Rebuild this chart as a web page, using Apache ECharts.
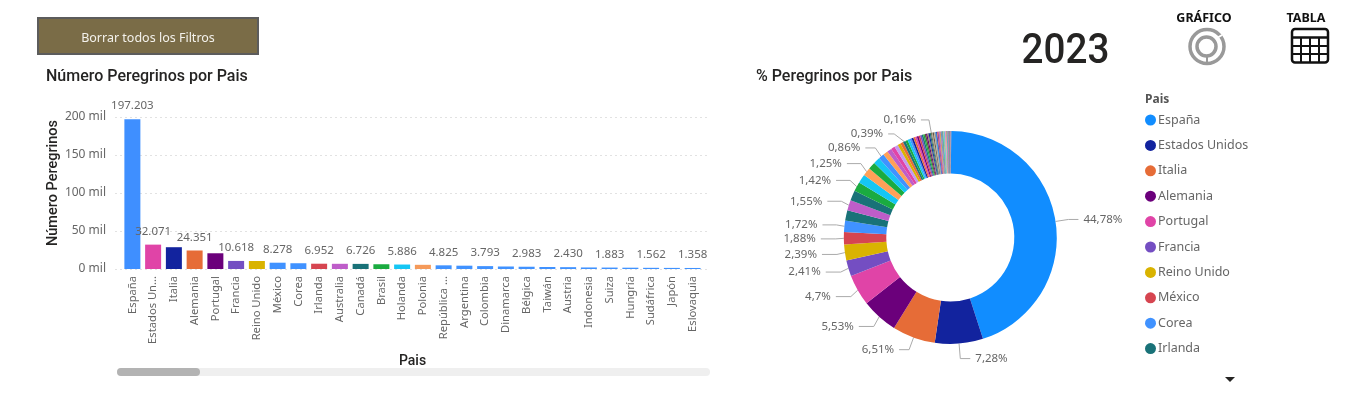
<!DOCTYPE html>
<html><head><meta charset="utf-8">
<style>html,body{margin:0;padding:0;background:#fff}#c{width:1361px;height:396px}</style>
<script src="https://cdn.jsdelivr.net/npm/echarts@6/dist/echarts.min.js"></script>
</head><body><div id="c"></div>
<script>
const barCategories = ['España','Estados Un...','Italia','Alemania','Portugal','Francia','Reino Unido','México','Corea','Irlanda','Australia','Canadá','Brasil','Holanda','Polonia','República ...','Argentina','Colombia','Dinamarca','Bélgica','Taiwán','Austria','Indonesia','Suiza','Hungría','Sudáfrica','Japón','Eslovaquia'];
const barValues = [197203,32071,28670,24351,20700,10618,10525,8278,7575,6952,6830,6726,6250,5886,5505,4825,4360,3793,3300,2983,2640,2430,2030,1883,1720,1562,1450,1358];
const barColors = ['#3f8fff','#e044a7','#12239e','#e66c37','#6b007b','#744ec2','#d9b300','#4092ff','#4092ff','#d64550','#be5dc9','#197278','#1aab40','#15c6f4','#f59a5a','#4092ff','#4092ff','#4092ff','#4092ff','#4092ff','#4092ff','#4092ff','#4092ff','#4092ff','#4092ff','#4092ff','#4092ff','#4092ff'];
const barLabelled = [0,1,3,5,7,9,11,13,15,17,19,21,23,25,27];

const pieNames = ['España','Estados Unidos','Italia','Alemania','Portugal','Francia','Reino Unido','México','Corea','Irlanda','Australia','Canadá','Brasil','Holanda','Polonia','República Checa','Argentina','Colombia','Dinamarca','Bélgica','Taiwán','Austria','Indonesia','Suiza','Hungría','Sudáfrica','Japón','Eslovaquia'];
const pieShares = [44.78,7.28,6.51,5.53,4.7,2.41,2.39,1.88,1.72,1.58,1.55,1.53,1.42,1.34,1.25,1.10,0.99,0.86,0.75,0.68,0.6,0.55,0.46,0.43,0.39,0.355,0.33,0.31];
const otherShares = [0.29,0.28,0.27,0.26,0.25,0.24,0.23,0.22,0.21,0.2,0.19,0.18,0.17,0.16,0.15,0.14,0.13,0.12,0.12,0.11,0.11,0.1,0.1,0.09,0.09,0.08,0.08,0.07,0.07,0.07,0.06,0.06,0.06,0.05,0.05,0.05,0.05,0.05,0.04,0.04,0.04,0.04,0.04,0.04,0.03,0.03,0.03,0.03,0.03,0.03,0.03,0.03,0.03,0.03,0.03,0.02,0.02,0.02,0.02,0.02,0.02,0.02,0.02,0.02,0.02,0.01,0.01,0.01,0.01,0.01,0.01,0.01,0.01];
const pieLabelled = [0,1,2,3,4,5,6,7,8,10,12,14,17,24,41];
const pieColors = ['#118dff','#12239e','#e66c37','#6b007b','#e044a7','#744ec2','#d9b300','#d64550','#4092ff','#197278','#be5dc9','#197278','#1aab40','#15c6f4','#ffa058','#1aab40','#15c6f4','#4092ff','#ffa058','#be5dc9','#e044a7','#c39bf0','#d9b300','#e66c37','#197278','#1aab40','#15c6f4','#4092ff','#12239e','#e66c37','#e044a7','#6b007b','#d64550','#744ec2','#197278','#1aab40','#5a5a30','#6b007b','#8a8a60','#12239e','#197278','#707050','#a8a090','#504030','#b8b098','#808080'];
const legendNames = pieNames.slice(0,10);

const ui = '"Noto Sans","Open Sans",sans-serif';
const din = 'Roboto,"Noto Sans",sans-serif';
const gray = '#666666';
const chart = echarts.init(document.getElementById('c'), null, {renderer:'canvas'});

const allPie = pieShares.concat(otherShares);
const lineTail = {3:15,4:15,5:15,6:15,7:15,8:14,10:14,12:14,14:14,24:6,41:8};
const icon = [
  {type:'rect',shape:{x:38,y:18,width:220,height:36},style:{fill:'#7a6c47',stroke:'#5c5c5c',lineWidth:2}},
  {type:'text',style:{x:148,y:38,text:'Borrar todos los Filtros',fill:'#f4f2ec',font:'12.5px '+ui,align:'center',verticalAlign:'middle'}},
  {type:'text',style:{x:46,y:76.5,text:'Número Peregrinos por Pais',fill:'#252423',font:'500 16px '+din,align:'left',verticalAlign:'middle',letterSpacing:0.7}},
  {type:'text',style:{x:756,y:76.5,text:'% Peregrinos por Pais',fill:'#252423',font:'500 16px '+din,align:'left',verticalAlign:'middle',letterSpacing:0.7}},
  {type:'text',originX:1065.5,originY:48,scaleX:0.92,style:{x:1065.5,y:52,text:'2023',fill:'#252423',font:'500 42px '+din,align:'center',verticalAlign:'middle',letterSpacing:2}},
  {type:'text',style:{x:1204,y:18,text:'GRÁFICO',fill:'#111',font:'bold 12.5px '+ui,align:'center',verticalAlign:'middle'}},
  {type:'text',style:{x:1306,y:18,text:'TABLA',fill:'#111',font:'bold 12.5px '+ui,align:'center',verticalAlign:'middle'}},
  {type:'circle',shape:{cx:1207,cy:46.5,r:17},style:{fill:'none',stroke:'#999',lineWidth:3.5}},
  {type:'circle',shape:{cx:1206.5,cy:46.5,r:9.5},style:{fill:'none',stroke:'#999',lineWidth:3.5}},
  {type:'line',shape:{x1:1217,y1:38,x2:1222,y2:35},style:{stroke:'#fff',lineWidth:2}},
  {type:'line',shape:{x1:1207,y1:57,x2:1207,y2:62},style:{stroke:'#999',lineWidth:2}},
  {type:'rect',shape:{x:1292,y:29,width:36,height:33.5,r:3},style:{fill:'#fff',stroke:'#111',lineWidth:2.5}},
  {type:'line',shape:{x1:1292,y1:37.5,x2:1328,y2:37.5},style:{stroke:'#111',lineWidth:2.5}},
  {type:'line',shape:{x1:1292,y1:46,x2:1328,y2:46},style:{stroke:'#111',lineWidth:2}},
  {type:'line',shape:{x1:1292,y1:54,x2:1328,y2:54},style:{stroke:'#111',lineWidth:2}},
  {type:'line',shape:{x1:1301,y1:38,x2:1301,y2:62},style:{stroke:'#111',lineWidth:2}},
  {type:'line',shape:{x1:1310,y1:38,x2:1310,y2:62},style:{stroke:'#111',lineWidth:2}},
  {type:'line',shape:{x1:1319,y1:38,x2:1319,y2:62},style:{stroke:'#111',lineWidth:2}},
  {type:'rect',shape:{x:117,y:368,width:593,height:8,r:4},style:{fill:'#efefef'}},
  {type:'rect',shape:{x:117,y:368,width:83,height:8,r:4},style:{fill:'#b3b3b3'}},
  {type:'text',style:{x:1145,y:99.5,text:'Pais',fill:'#555',font:'bold 12px '+ui,align:'left',verticalAlign:'middle'}},
  {type:'polygon',shape:{points:[[1225,377],[1235,377],[1230,382]]},style:{fill:'#252423'}}
];

chart.setOption({
  animation:false,
  color:pieColors,
  graphic:icon,
  grid:[
    {left:122,width:581,top:117,height:152},
    {left:115,width:593,top:117,height:152}
  ],
  xAxis:[
    {type:'category',gridIndex:0,data:barCategories,axisLine:{show:false},axisTick:{show:false},
     axisLabel:{rotate:90,interval:0,margin:7,color:gray,fontFamily:ui,fontSize:11.2},
     name:'Pais',nameLocation:'middle',nameGap:85,nameTextStyle:{color:'#252423',fontFamily:din,fontSize:14,fontWeight:500,letterSpacing:0.5}},
    {type:'value',gridIndex:1,show:false}
  ],
  yAxis:[
    {type:'value',gridIndex:0,min:0,max:200000,interval:50000,show:false},
    {type:'value',gridIndex:1,min:0,max:200000,interval:50000,
     axisLine:{show:false},axisTick:{show:false},
     splitLine:{lineStyle:{type:[2,3],color:'#e2e2e2',width:1}},
     axisLabel:{margin:9,color:gray,fontFamily:ui,fontSize:12,verticalAlign:'top',padding:[-6,0,0,0],formatter:v=>(v/1000)+' mil'},
     name:'Número Peregrinos',nameLocation:'middle',nameGap:48,nameRotate:90,
     nameTextStyle:{color:'#252423',fontFamily:din,fontSize:14.5,fontWeight:500,padding:[0,0,0,20]}}
  ],
  legend:{orient:'vertical',left:1145,top:112,padding:0,data:legendNames,icon:'circle',itemWidth:11,itemHeight:11,itemGap:9.4,
    textStyle:{color:gray,fontFamily:ui,fontSize:12.5,height:16,lineHeight:16,padding:[0,0,0,-3]},selectedMode:false},
  series:[
    {type:'bar',xAxisIndex:0,yAxisIndex:0,barWidth:16,
     data:barValues.map((v,i)=>({value:v,itemStyle:{color:barColors[i]},
       label:{show:barLabelled.includes(i)}})),
     label:{position:'top',distance:7,color:gray,fontFamily:ui,fontSize:11.5,
       formatter:p=>p.value.toLocaleString('de-DE')}},
    {type:'scatter',xAxisIndex:1,yAxisIndex:1,data:[],silent:true},
    {type:'pie',center:[950.3,237.5],radius:[64,106.5],startAngle:89.5,clockwise:true,
     avoidLabelOverlap:true,minShowLabelAngle:0,
     itemStyle:{borderWidth:0},
     data:allPie.map((v,i)=>({name:i<pieNames.length?pieNames[i]:'Otro '+(i+1),value:v,
        label:{show:pieLabelled.includes(i)},
        labelLine:{show:pieLabelled.includes(i),length:i===1?15:13,length2:lineTail[i]||10}})),
     label:{color:gray,fontFamily:ui,fontSize:11.5,formatter:p=>String(p.value).replace('.',',')+'%'},
     labelLine:{length:13,length2:10,lineStyle:{color:'#aaaaaa',width:1}}}
  ]
});
</script></body></html>
